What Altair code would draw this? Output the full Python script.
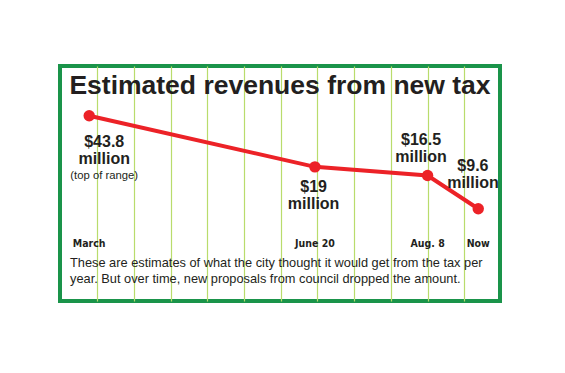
import altair as alt
import pandas as pd

# ---- data ----
periods = ["March", "June 20", "Aug. 8", "Now"]
timeline = [-0.22, 5.93, 9.0, 10.38]          # position along the timeline (grid units)
revenue = [43.8, 19.0, 16.5, 9.6]             # $ millions
value_text = ["$43.8", "$19", "$16.5", "$9.6"]
grid_ticks = list(range(0, 11))
title_text = "Estimated revenues from new tax"
note_text = "(top of range)"
caption_lines = [
    "These are estimates of what the city thought it would get from the tax per",
    "year. But over time, new proposals from council dropped the amount.",
]

df = pd.DataFrame({
    "period": periods,
    "t": timeline,
    "revenue": revenue,
    "label": [[v, "million"] for v in value_text],
})
one = pd.DataFrame({"k": [0]})

RED = "#ec2227"
GREEN = "#1a944a"
GRID = "#b9dc6c"
INK = "#231f20"

xs = alt.X("t:Q", scale=alt.Scale(domain=[-1.016, 10.973], nice=False, zero=False),
           axis=alt.Axis(values=grid_ticks, grid=True, gridColor=GRID, gridWidth=1.2,
                         labels=False, ticks=False, domain=False, title=None))
ys = alt.Y("revenue:Q", scale=alt.Scale(type="log", domain=[2.13, 98.5], nice=False),
           axis=None)

base = alt.Chart(df)

line = base.mark_line(color=RED, strokeWidth=4).encode(x=xs, y=ys, order="t:Q")
pts = base.mark_circle(color=RED, opacity=1, size=130).encode(
    x=alt.X("t:Q"), y=alt.Y("revenue:Q"))

lab_font = dict(font="Liberation Sans", fontWeight="bold", fontSize=16, color=INK,
                align="center", baseline="alphabetic", lineHeight=17)

offsets = {"March": (15, 31.7), "June 20": (-1.3, 24.8), "Aug. 8": (-6.5, -30.5), "Now": (-5.3, -38)}
label_layers = []
for p in periods:
    dx, dy = offsets[p]
    label_layers.append(
        base.transform_filter(alt.datum.period == p)
        .mark_text(dx=dx, dy=dy, **lab_font)
        .encode(x="t:Q", y="revenue:Q", text="label:N")
    )

note = base.transform_filter(alt.datum.period == "March").mark_text(
    dx=15, dy=60.4, font="Liberation Sans", fontSize=11.3, color=INK, align="center"
).encode(x="t:Q", y="revenue:Q", text=alt.value(note_text))

dates = base.mark_text(font="DejaVu Sans Condensed", fontWeight="bold", fontSize=10.5,
                       color=INK, align="center", baseline="alphabetic").encode(
    x="t:Q", y=alt.value(181.3), text="period:N")

title = alt.Chart(one).mark_text(font="Liberation Sans", fontWeight="bold", fontSize=26.5,
                                 color=INK, align="center", baseline="alphabetic").encode(
    x=alt.value(220), y=alt.value(27.5), text=alt.value(title_text))

caption = alt.Chart(one).mark_text(font="Liberation Sans", fontSize=12.8, color=INK,
                                   align="left", baseline="alphabetic", lineHeight=16).encode(
    x=alt.value(10), y=alt.value(201.3), text=alt.value(caption_lines))

chart = alt.layer(line, pts, *label_layers, note, dates, title, caption).properties(
    width=440, height=235,
    autosize=alt.AutoSizeParams(type="none"),
    padding={"left": 52, "top": 58, "right": 10, "bottom": 10},
    background="white",
).configure_view(stroke=GREEN, strokeWidth=4)

chart.save("out.html", embed_options={"renderer": "svg", "actions": False})
